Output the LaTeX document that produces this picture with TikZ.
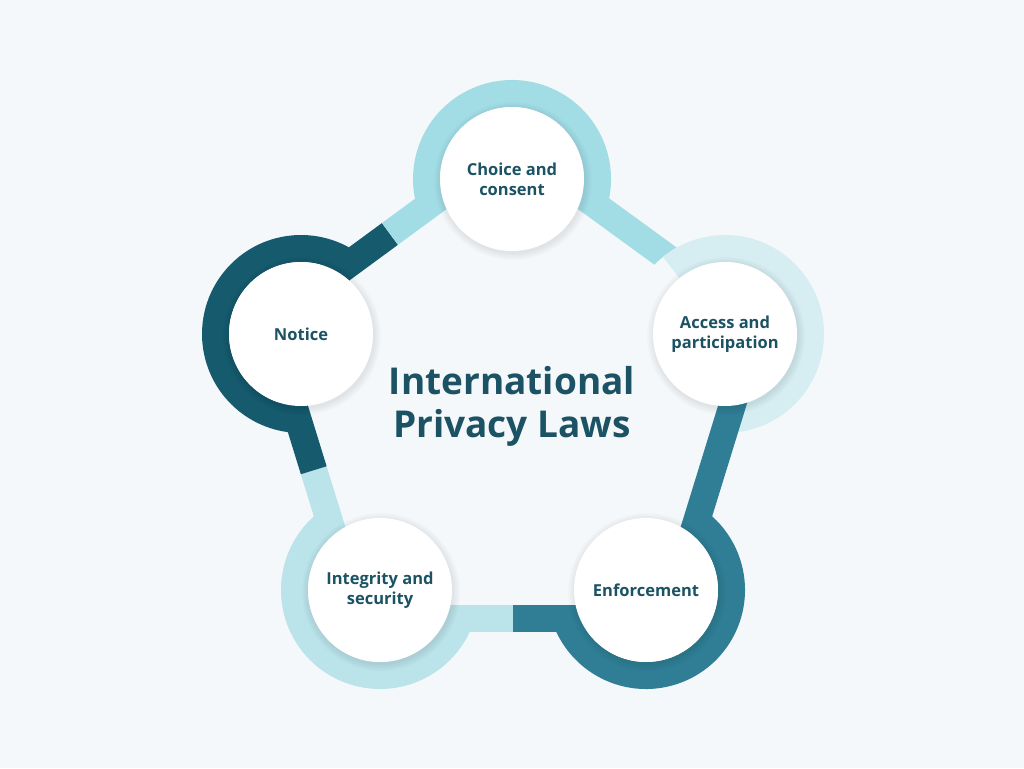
\documentclass[tikz,border=0pt]{standalone}
\usepackage{fontspec}
\setmainfont{Open Sans}
\usetikzlibrary{calc}
\definecolor{bg}{HTML}{F5F8FA}
\definecolor{cdark}{HTML}{165A6D}
\definecolor{ccyan}{HTML}{A2DDE6}
\definecolor{cpale}{HTML}{D6EDF1}
\definecolor{cteal}{HTML}{2F7E96}
\definecolor{clight}{HTML}{BAE3EA}
\definecolor{ctext}{HTML}{1B5264}
\pgfdeclarelayer{backdrop}
\pgfdeclarelayer{barsA}
\pgfdeclarelayer{rings}
\pgfdeclarelayer{barsB}
\pgfdeclarelayer{shade}
\pgfsetlayers{backdrop,barsA,rings,barsB,shade,main}
\tikzset{
  circ/.style={circle, fill=white, minimum size=144pt, inner sep=0pt, outer sep=0pt,
    align=center, text=ctext, font=\bfseries\fontsize{16.5}{20}\selectfont},
  ring/.style={line width=27pt, line cap=butt},
  bar/.style={line width=27pt, line cap=butt},
  softshade/.style={fill=black, fill opacity=0.016},
  title/.style={align=center, text=ctext, font=\bfseries\fontsize{37}{43}\selectfont}
}
\begin{document}
\begin{tikzpicture}[x=1pt,y=-1pt]
\begin{pgfonlayer}{backdrop}
\fill[bg] (0,0) rectangle (1024,768);
\end{pgfonlayer}
\useasboundingbox (0,0) rectangle (1024,768);

\node[circ] (N) at (301,334) {Notice};
\node[circ] (C) at (512,179) {Choice and\\consent};
\node[circ] (A) at (725,334) {Access and\\participation};
\node[circ] (E) at (646,590) {Enforcement};
\node[circ] (I) at (380,590) {Integrity and\\security};

\node[title] (T) at (512,406) {International\\Privacy Laws};

% offset bar end points (outward side)
\coordinate (nc1) at ($(N)!28pt!90:(C)$);
\coordinate (nc2) at ($(C)!28pt!-90:(N)$);
\coordinate (ca1) at ($(C)!28pt!90:(A)$);
\coordinate (ca2) at ($(A)!28pt!-90:(C)$);
\coordinate (ae1) at ($(A)!28pt!90:(E)$);
\coordinate (ae2) at ($(E)!28pt!-90:(A)$);
\coordinate (ei1) at ($(E)!28pt!90:(I)$);
\coordinate (ei2) at ($(I)!28pt!-90:(E)$);
\coordinate (in1) at ($(I)!28pt!90:(N)$);
\coordinate (in2) at ($(N)!28pt!-90:(I)$);

\begin{pgfonlayer}{barsA}
  \begin{scope}[even odd rule]
    \clip (0,0) rectangle (1024,768) (A) circle[radius=99pt];
    \draw[bar, ccyan] (ca1) -- (ca2);
  \end{scope}
\end{pgfonlayer}

\begin{pgfonlayer}{rings}
  \draw[ring, cdark]  ($(N)+(51.3:85.5pt)$)  arc[start angle=51.3,  end angle=272.2, radius=85.5pt];
  \draw[ring, ccyan]  ($(C)+(-21:85.5pt)$)   arc[start angle=-21,   end angle=201.3, radius=85.5pt];
  \draw[ring, cpale]  ($(A)+(-92.2:85.5pt)$) arc[start angle=-92.2, end angle=129,   radius=85.5pt];
  \draw[ring, cteal]  ($(E)+(195:85.5pt)$)   arc[start angle=195,   end angle=417.9, radius=85.5pt];
  \draw[ring, clight] ($(I)+(122.2:85.5pt)$) arc[start angle=122.2, end angle=345,   radius=85.5pt];
\end{pgfonlayer}

\begin{pgfonlayer}{barsB}
  \draw[bar, cdark]  (nc1) -- ($(nc1)!0.5!(nc2)$);
  \draw[bar, ccyan]  ($(nc1)!0.5!(nc2)$) -- (nc2);
  \draw[bar, cteal]  (ae1) -- (ae2);
  \draw[bar, cteal]  (ei1) -- ($(ei1)!0.5!(ei2)$);
  \draw[bar, clight] ($(ei1)!0.5!(ei2)$) -- (ei2);
  \draw[bar, clight] (in1) -- ($(in1)!0.5!(in2)$);
  \draw[bar, cdark]  ($(in1)!0.5!(in2)$) -- (in2);
\end{pgfonlayer}

\begin{pgfonlayer}{shade}
  \foreach \n in {N,C,A,E,I}{
    \foreach \r in {73,74.5,76,77.5,79}{
      \fill[softshade] ($(\n)+(1pt,-2pt)$) circle[radius=\r pt];
    }
  }
\end{pgfonlayer}
\end{tikzpicture}
\end{document}
